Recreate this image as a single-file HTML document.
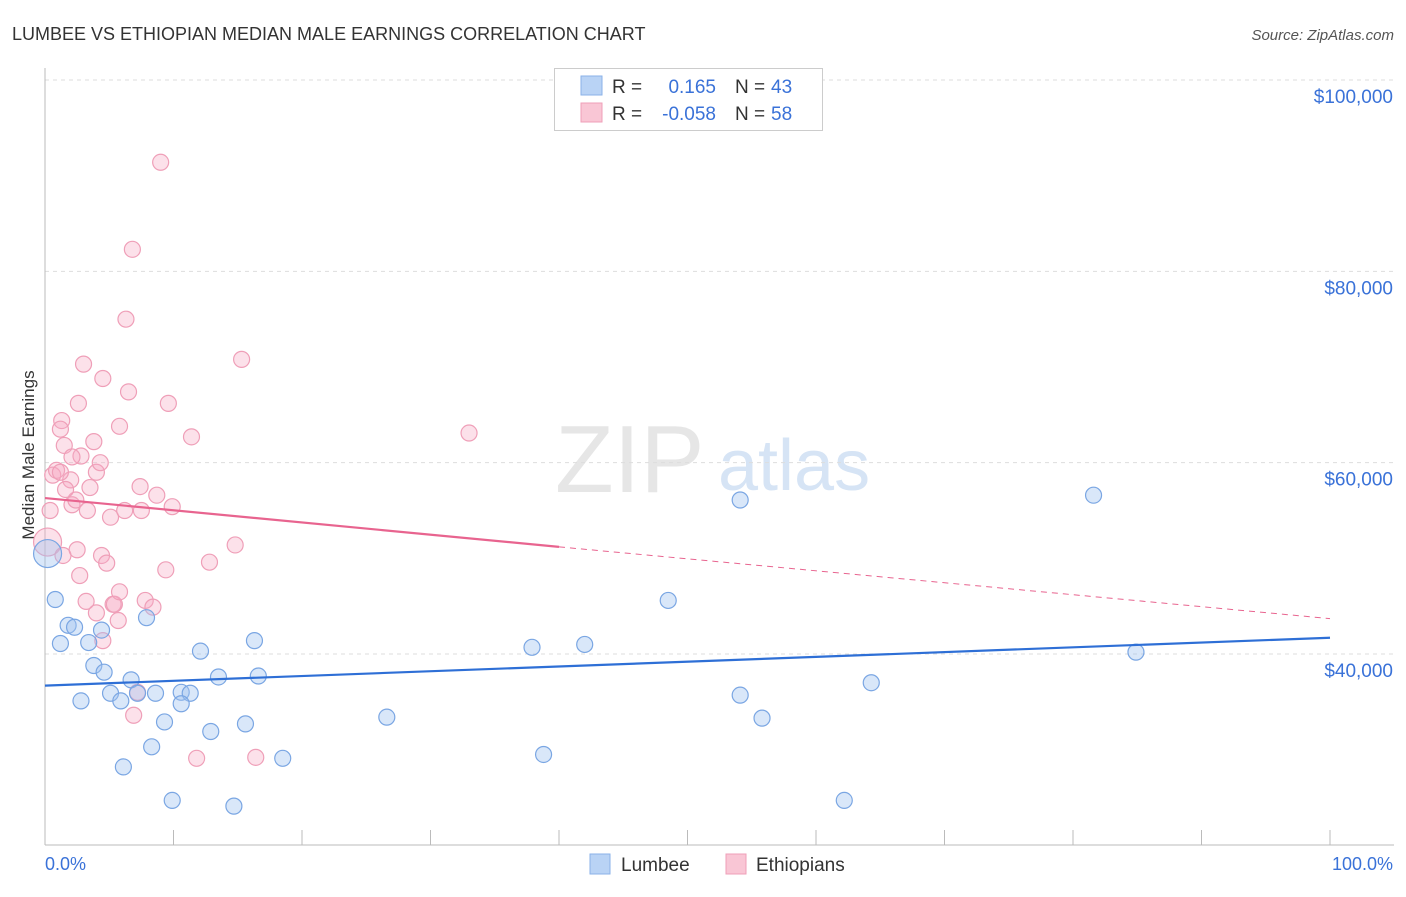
<!DOCTYPE html>
<html><head><meta charset="utf-8"><style>
body{margin:0;background:#fff;font-family:"Liberation Sans",sans-serif;}
svg text{font-family:"Liberation Sans",sans-serif;}
</style></head><body>
<svg id="c" width="1406" height="892" xmlns="http://www.w3.org/2000/svg">
<text x="12" y="40" font-size="18" fill="#333">LUMBEE VS ETHIOPIAN MEDIAN MALE EARNINGS CORRELATION CHART</text>
<text x="1394" y="40" font-size="15" fill="#555" font-style="italic" text-anchor="end">Source: ZipAtlas.com</text>
<text transform="translate(34,455) rotate(-90)" font-size="17" fill="#333" text-anchor="middle">Median Male Earnings</text>
<text x="555" y="492" font-size="96" fill="#e6e6e6" font-family="Liberation Serif">ZIP</text>
<text x="718" y="490" font-size="72" fill="#d6e4f5">atlas</text>
<g id="grid"></g><g id="marks"></g>
<text x="45" y="870" font-size="18" fill="#3a72d8">0.0%</text>
<text x="1393" y="870" font-size="18" fill="#3a72d8" text-anchor="end">100.0%</text>
<g>
<rect x="554.5" y="68.5" width="268" height="62" fill="#fff" stroke="#ccc"/>
<rect x="581" y="76" width="21" height="19" fill="#b9d3f5" stroke="#8ab2e8"/>
<rect x="581" y="103" width="21" height="19" fill="#f9c6d5" stroke="#ef9fb8"/>
<text x="612" y="93" font-size="19" fill="#333">R =</text><text x="716" y="93" font-size="19" fill="#3a72d8" text-anchor="end">0.165</text>
<text x="735" y="93" font-size="19" fill="#333">N =</text><text x="771" y="93" font-size="19" fill="#3a72d8">43</text>
<text x="612" y="120" font-size="19" fill="#333">R =</text><text x="716" y="120" font-size="19" fill="#3a72d8" text-anchor="end">-0.058</text>
<text x="735" y="120" font-size="19" fill="#333">N =</text><text x="771" y="120" font-size="19" fill="#3a72d8">58</text>
</g>
<g>
<rect x="590" y="854" width="20" height="20" fill="#b9d3f5" stroke="#8ab2e8"/>
<text x="621" y="871" font-size="19" fill="#333">Lumbee</text>
<rect x="726" y="854" width="20" height="20" fill="#f9c6d5" stroke="#ef9fb8"/>
<text x="756" y="871" font-size="19" fill="#333">Ethiopians</text>
</g>
</svg>
<script>
const yTicks=[100000,80000,60000,40000];
const yTickLabels=["$100,000","$80,000","$60,000","$40,000"];
const xTicks=[0,10,20,30,40,50,60,70,80,90,100];
const lumbeeX=[0.2,0.8,1.2,1.8,2.3,3.4,3.8,4.6,2.8,5.1,5.9,6.7,7.2,8.6,4.4,7.9,9.3,8.3,6.1,9.9,10.6,11.3,10.6,12.1,13.5,12.9,15.6,16.6,16.3,18.5,14.7,26.6,37.9,42,38.8,48.5,54.1,54.1,55.8,64.3,62.2,81.6,84.9];
const lumbeeY=[50500,45700,41100,43000,42800,41200,38800,38100,35100,35900,35100,37300,35900,35900,42500,43800,32900,30300,28200,24700,36000,35900,34800,40300,37600,31900,32700,37700,41400,29100,24100,33400,40700,41000,29500,45600,56100,35700,33300,37000,24700,56600,40200];
const ethX=[0.2,0.4,0.6,0.9,1.3,1.2,1.5,2,2.1,2.4,2.6,2.8,2.7,3,3.2,3.5,3.8,4,4,4.3,4.5,4.4,4.5,4.8,5.1,5.3,5.4,5.7,5.8,5.8,6.2,6.3,6.5,6.8,6.9,7.2,7.4,7.5,7.8,8.4,8.7,9,9.4,9.6,9.9,11.4,11.8,12.8,14.8,15.3,16.4,33,1.2,1.6,3.3,1.4,2.1,2.5];
const ethY=[51700,55000,58700,59200,64400,63500,61800,58200,55600,56100,66200,60700,48200,70300,45500,57400,62200,44300,59000,60000,68800,50300,41400,49500,54300,45200,45200,43500,46500,63800,55000,75000,67400,82300,33600,36000,57500,55000,45600,44900,56600,91400,48800,66200,55400,62700,29100,49600,51400,70800,29200,63100,59000,57200,55000,50300,60600,50900];
const lumbeeTrend=[0,100,36700,41700];
const ethTrend=[0,40,56300,51200,100,43700];
const X=p=>45+p*12.85, Y=v=>80+(100000-v)*0.009567;
const NS="http://www.w3.org/2000/svg";
function mk(t,a,parent){const e=document.createElementNS(NS,t);for(const k in a)e.setAttribute(k,a[k]);parent.appendChild(e);return e;}
const grid=document.getElementById('grid'),marks=document.getElementById('marks');
yTicks.forEach((v,i)=>{
 const l=mk('line',{x1:45,x2:1394,y1:Y(v),y2:Y(v),stroke:'#ddd','stroke-dasharray':'4,4'},grid);
 
 
 const t=mk('text',{x:1393,y:Y(v)+23,'font-size':19,fill:'#3a72d8','text-anchor':'end'},grid);
 t.textContent=yTickLabels[i];
 
 
});
const ax=mk('line',{x1:45,x2:45,y1:68,y2:845,stroke:'#bbb'},grid);


const bx=mk('line',{x1:45,x2:1394,y1:845,y2:845,stroke:'#bbb'},grid);


xTicks.forEach(p=>{
 const t=mk('line',{x1:X(p),x2:X(p),y1:830,y2:845,stroke:'#bbb'},grid);
 
 
});
ethX.forEach((x,i)=>{
 const c=mk('circle',{cx:X(x),cy:Y(ethY[i]),r:i==0?14:8,fill:'rgba(246,170,195,0.35)',stroke:'#ef9fb8','stroke-width':1.2},marks);
 
 
});
lumbeeX.forEach((x,i)=>{
 const c=mk('circle',{cx:X(x),cy:Y(lumbeeY[i]),r:i==0?14:8,fill:'rgba(160,195,240,0.4)',stroke:'#7aa6e3','stroke-width':1.2},marks);
 
 
});
const lt=mk('line',{x1:X(lumbeeTrend[0]),x2:X(lumbeeTrend[1]),y1:Y(lumbeeTrend[2]),y2:Y(lumbeeTrend[3]),stroke:'#2e6fd6','stroke-width':2.2},marks);


const et=mk('line',{x1:X(ethTrend[0]),x2:X(ethTrend[1]),y1:Y(ethTrend[2]),y2:Y(ethTrend[3]),stroke:'#e8648f','stroke-width':2.2},marks);


const ed=mk('line',{x1:X(ethTrend[1]),x2:X(ethTrend[4]),y1:Y(ethTrend[3]),y2:Y(ethTrend[5]),stroke:'#e8648f','stroke-width':1,'stroke-dasharray':'6,5'},marks);


</script>
</body></html>
